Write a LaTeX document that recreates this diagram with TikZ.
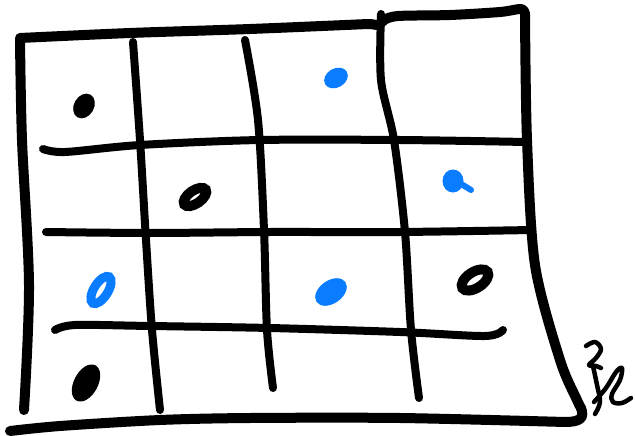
\documentclass[tikz,border=0pt]{standalone}
\definecolor{penblue}{RGB}{10,124,255}
\tikzset{
  frame/.style={line width=10pt, line cap=round, line join=round},
  gridline/.style={line width=8pt, line cap=round, line join=round},
  dotfill/.style={fill=#1, draw=#1, line width=1pt},
  ring/.style={draw=#1, line width=9pt},
  sig/.style={line width=4.5pt, line cap=round, line join=round}
}
\begin{document}
\begin{tikzpicture}[x=1pt,y=-1pt]
\useasboundingbox (0,0) rectangle (635,436);
% outer frame
\draw[frame] plot[smooth,tension=0.5] coordinates {(20,40) (22,140) (29,285) (24,410)};
\draw[frame] plot[smooth,tension=0.5] coordinates {(20,38) (130,33) (250,29) (368,24)};
\draw[frame] (368,24) .. controls (378,24) and (376,28) .. (384,20);
\draw[frame] plot[smooth,tension=0.5] coordinates {(384,20) (398,16) (450,15) (500,12) (521,9) (525,14)};
\draw[frame] plot[smooth,tension=0.5] coordinates {(525,14) (527,140) (535,265) (560,360) (577,400) (581,408)};
\draw[frame] (581,408) .. controls (585,418) and (580,422) .. (565,422);
\draw[frame] plot[smooth,tension=0.5] coordinates {(565,422) (400,418) (250,418) (160,420) (60,426) (10,431)};
% verticals
\draw[gridline] plot[smooth,tension=0.5] coordinates {(133,42) (140,140) (146,240) (152,330) (160,410)};
\draw[gridline] plot[smooth,tension=0.5] coordinates {(245,40) (258,120) (264,230) (267,330) (273,388)};
\draw[gridline] plot[smooth,tension=0.5] coordinates {(381,14) (381,80) (394,140) (405,232) (411,330) (419,398)};
% horizontals
\draw[gridline] plot[smooth,tension=0.5] coordinates {(43,149) (65,152) (140,145) (260,140) (400,140) (526,142)};
\draw[gridline] plot[smooth,tension=0.5] coordinates {(46,232) (150,233) (270,232) (400,232) (532,230)};
\draw[gridline] plot[smooth,tension=0.5] coordinates {(55,330) (75,325) (150,326) (270,328) (400,332) (485,336) (503,330)};
% dots
\draw[dotfill=black, rotate around={60:(84,106)}] (84,106) ellipse (12.5pt and 9.5pt);
\draw[dotfill=penblue, rotate around={30:(336,78)}] (336,78) ellipse (12pt and 9pt);
\draw[ring=black, line width=10pt, rotate around={35:(195,197)}] (195,197) ellipse (13pt and 6.5pt);
\draw[dotfill=penblue] (453,181) ellipse (10pt and 11pt);
\draw[sig, line width=6pt, draw=penblue] (458,182) -- (471,190);
\draw[ring=penblue, line width=9pt, rotate around={58:(101,290)}] (101,290) ellipse (15.5pt and 7pt);
\draw[dotfill=penblue, rotate around={35:(331,292)}] (331,292) ellipse (17pt and 11pt);
\draw[ring=black, line width=10pt, rotate around={33:(475,280)}] (475,280) ellipse (15pt and 8pt);
\draw[dotfill=black, rotate around={62:(86,383)}] (86,383) ellipse (19.5pt and 11.5pt);
% signature
\draw[sig] plot[smooth,tension=0.6] coordinates {(586,346) (595,342) (601,349) (596,358) (589,365) (596,366) (601,368)};
\draw[sig] plot[smooth,tension=0.6] coordinates {(593,366) (597,385) (600,402) (595,414)};
\draw[sig] plot[smooth,tension=0.6] coordinates {(594,402) (606,388) (616,372) (622,368) (620,380) (612,394) (613,402) (622,403) (631,398)};
\end{tikzpicture}
\end{document}
